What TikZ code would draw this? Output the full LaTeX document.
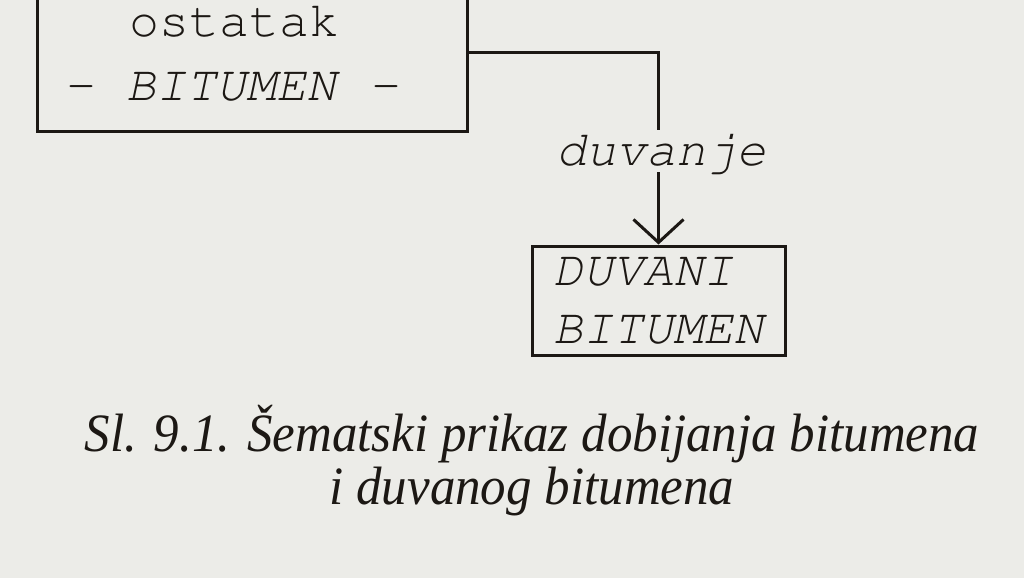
\documentclass[tikz,border=0pt]{standalone}
\usepackage[T1]{fontenc}
\usepackage{fontspec}
\setmainfont{Liberation Serif}
\usetikzlibrary{positioning,arrows.meta}
\definecolor{paper}{RGB}{236,236,232}
\definecolor{ink}{RGB}{28,24,20}
\newcommand*{\courier}{\fontencoding{T1}\fontfamily{pcr}\selectfont}

\begin{document}
\begin{tikzpicture}[x=1pt,y=-1pt,
  box/.style={draw=ink, line width=3pt, inner sep=0pt},
  mono/.style={text=ink, font=\courier\fontsize{50}{64}\selectfont},
  link/.style={draw=ink, line width=3pt},
  ]
 % page
 \fill[paper] (0,0) rectangle (1024,578);
 \useasboundingbox (0,0) rectangle (1024,578);
 \clip (0,0) rectangle (1024,578);

 % residue box (cut at the top)
 \node[box, minimum width=430pt, minimum height=156pt] (residue) at (252.5,53) {};
 \node[mono, align=center, inner ysep=0pt] (residuetext) at (234,53) {ostatak\\- \textit{BITUMEN} -};

 % blown bitumen
 \node[box, mono, align=left,
    minimum width=253pt,
    minimum height=109pt,
    font=\courier\itshape\fontsize{50}{58}\selectfont
 ] (product) at (658.5,300.5) {DUVANI\\BITUMEN};

 % blowing step
 \node[mono, font=\courier\itshape\fontsize{50}{64}\selectfont,
    text height=35pt, text depth=7pt, inner sep=0pt, anchor=base
 ] (blow) at (661,165) {duvanje};

 \draw[link] (residue.east) -| (blow.north -| product.north);
 \draw[link, -{Straight Barb[length=23pt,width=50pt]}] (blow.south -| product.north) -- (product.north);

 % caption
 \node[text=ink, align=center, xscale=0.944,
    font=\itshape\fontsize{54}{53}\selectfont
 ] (caption) at (532,461) {Sl. 9.1. Šematski prikaz dobijanja bitumena\\i duvanog bitumena};
\end{tikzpicture}
\end{document}
